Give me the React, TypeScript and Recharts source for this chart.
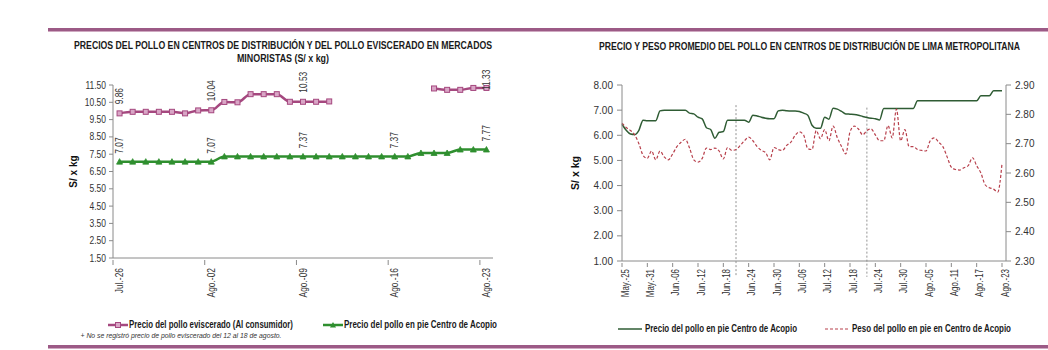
import React from 'react';
import { LineChart, Line, XAxis, YAxis, LabelList, ReferenceLine, Legend } from 'recharts';

const SANS = '"Liberation Sans", Arial, sans-serif';

// ---------- Left chart data ----------
const weekDates = ['Jul.-26', 'Jul.-27', 'Jul.-28', 'Jul.-29', 'Jul.-30', 'Jul.-31', 'Ago.-01', 'Ago.-02', 'Ago.-03', 'Ago.-04', 'Ago.-05', 'Ago.-06', 'Ago.-07', 'Ago.-08', 'Ago.-09', 'Ago.-10', 'Ago.-11', 'Ago.-12', 'Ago.-13', 'Ago.-14', 'Ago.-15', 'Ago.-16', 'Ago.-17', 'Ago.-18', 'Ago.-19', 'Ago.-20', 'Ago.-21', 'Ago.-22', 'Ago.-23'];
const evisceradoPrice: (number | null)[] = [9.86, 9.95, 9.95, 9.95, 9.95, 9.86, 10.03, 10.04, 10.52, 10.5, 10.97, 10.97, 10.97, 10.53, 10.53, 10.53, 10.55, null, null, null, null, null, null, null, 11.3, 11.22, 11.22, 11.33, 11.33];
const piePriceShort = [7.07, 7.07, 7.07, 7.07, 7.07, 7.07, 7.07, 7.07, 7.37, 7.37, 7.37, 7.37, 7.37, 7.37, 7.37, 7.37, 7.37, 7.37, 7.37, 7.37, 7.37, 7.37, 7.37, 7.57, 7.57, 7.57, 7.77, 7.77, 7.77];
const leftYTicks = [1.5, 2.5, 3.5, 4.5, 5.5, 6.5, 7.5, 8.5, 9.5, 10.5, 11.5];

// ---------- Right chart data ----------
const dayDates = [
  'May.-25', 'May.-26', 'May.-27', 'May.-28', 'May.-29', 'May.-30', 'May.-31',
  'Jun.-01', 'Jun.-02', 'Jun.-03', 'Jun.-04', 'Jun.-05', 'Jun.-06', 'Jun.-07', 'Jun.-08', 'Jun.-09', 'Jun.-10',
  'Jun.-11', 'Jun.-12', 'Jun.-13', 'Jun.-14', 'Jun.-15', 'Jun.-16', 'Jun.-17', 'Jun.-18', 'Jun.-19', 'Jun.-20',
  'Jun.-21', 'Jun.-22', 'Jun.-23', 'Jun.-24', 'Jun.-25', 'Jun.-26', 'Jun.-27', 'Jun.-28', 'Jun.-29', 'Jun.-30',
  'Jul.-01', 'Jul.-02', 'Jul.-03', 'Jul.-04', 'Jul.-05', 'Jul.-06', 'Jul.-07', 'Jul.-08', 'Jul.-09', 'Jul.-10',
  'Jul.-11', 'Jul.-12', 'Jul.-13', 'Jul.-14', 'Jul.-15', 'Jul.-16', 'Jul.-17', 'Jul.-18', 'Jul.-19', 'Jul.-20',
  'Jul.-21', 'Jul.-22', 'Jul.-23', 'Jul.-24', 'Jul.-25', 'Jul.-26', 'Jul.-27', 'Jul.-28', 'Jul.-29', 'Jul.-30', 'Jul.-31',
  'Ago.-01', 'Ago.-02', 'Ago.-03', 'Ago.-04', 'Ago.-05', 'Ago.-06', 'Ago.-07', 'Ago.-08', 'Ago.-09', 'Ago.-10',
  'Ago.-11', 'Ago.-12', 'Ago.-13', 'Ago.-14', 'Ago.-15', 'Ago.-16', 'Ago.-17', 'Ago.-18', 'Ago.-19', 'Ago.-20',
  'Ago.-21', 'Ago.-22', 'Ago.-23',
];
const piePrice = [
  6.44, 6.2, 6.05, 6.03, 6.2, 6.6, 6.58, 6.58, 6.58, 6.97,
  7.0, 7.0, 7.0, 7.0, 7.0, 7.0, 6.88, 6.85, 6.72, 6.65,
  6.3, 6.23, 5.88, 6.12, 6.15, 6.6, 6.6, 6.6, 6.6, 6.6,
  6.52, 6.8, 6.77, 6.72, 6.68, 6.66, 6.66, 6.97, 7.0, 6.98,
  6.97, 6.97, 6.95, 6.88, 6.8, 6.4, 6.28, 6.28, 6.72, 6.64,
  7.08, 7.04, 6.95, 6.85, 6.84, 6.83, 6.8, 6.75, 6.71, 6.68,
  6.66, 6.61, 7.07, 7.07, 7.07, 7.07, 7.07, 7.07, 7.07, 7.07,
  7.37, 7.37, 7.37, 7.37, 7.37, 7.37, 7.37, 7.37, 7.37, 7.37,
  7.37, 7.37, 7.37, 7.37, 7.37, 7.57, 7.57, 7.57, 7.77, 7.77,
  7.77,
];
const pieWeight = [
  2.77, 2.755, 2.745, 2.73, 2.7, 2.66, 2.65, 2.675, 2.645, 2.675,
  2.655, 2.645, 2.665, 2.69, 2.705, 2.715, 2.685, 2.645, 2.637, 2.65,
  2.685, 2.68, 2.685, 2.675, 2.648, 2.687, 2.677, 2.68, 2.694, 2.71,
  2.722, 2.71, 2.69, 2.677, 2.67, 2.645, 2.687, 2.68, 2.677, 2.694,
  2.705, 2.728, 2.74, 2.73, 2.683, 2.68, 2.745, 2.717, 2.748, 2.71,
  2.76, 2.72, 2.69, 2.665, 2.74, 2.76, 2.75, 2.73, 2.745, 2.75,
  2.73, 2.71, 2.71, 2.762, 2.72, 2.818, 2.71, 2.748, 2.69, 2.69,
  2.68, 2.677, 2.675, 2.71, 2.72, 2.705, 2.69, 2.655, 2.62, 2.612,
  2.61, 2.618, 2.625, 2.652, 2.625, 2.6, 2.56, 2.55, 2.545, 2.535,
  2.632,
];
const rightLeftTicks = [1, 2, 3, 4, 5, 6, 7, 8];
const rightRightTicks = [2.3, 2.4, 2.5, 2.6, 2.7, 2.8, 2.9];
const markerDates = ['Jun.-21', 'Jul.-22'];
const markerTop = [7.2, 7.1];
const markerBottom = 0.37;

const leftData = weekDates.map((d, i) => ({ d, ev: evisceradoPrice[i], pie: piePriceShort[i] }));
const rightData = dayDates.map((d, i) => ({ d, precio: piePrice[i], peso: pieWeight[i] }));

const PINK = '#a5487f';
const PINK_FILL = '#d9a6c6';
const GREEN = '#2f8f2f';
const DARK_GREEN = '#2f5c34';
const RED = '#b8404c';
const AXIS = '#8a8a8a';
const TXT = '#333';
const NARROW_SCALE = 0.8;

const LeftXTick = (props: any) => {
  const { x, y, payload } = props;
  const ty = y + 3;
  return (
    <g>
      <line x1={x - 6.55} x2={x - 6.55} y1={y - 5} y2={y} stroke={AXIS} />
      <text transform={`translate(${x}, ${ty}) rotate(-90) scale(${NARROW_SCALE}, 1)`} x={0} y={0} textAnchor="end" dy="0.35em" fontSize={10.5} fill={TXT} fontFamily={SANS}>
        {payload.value}
      </text>
    </g>
  );
};

const RightXTick = (props: any) => {
  const { x, y, payload } = props;
  const ty = y + 2;
  return (
    <g>
      <line x1={x} x2={x} y1={y - 4} y2={y} stroke={AXIS} />
      <text transform={`translate(${x}, ${ty}) rotate(-90) scale(0.76, 1)`} x={0} y={0} textAnchor="end" dy="0.65em" fontSize={10.5} fill={TXT} fontFamily={SANS}>
        {payload.value}
      </text>
    </g>
  );
};

const LeftYTick = (props: any) => {
  const { x, y, payload } = props;
  return (
    <text transform={`translate(${x}, ${y}) scale(0.85, 1)`} x={0} y={0} textAnchor="end" dy="0.35em" fontSize={10} fill={TXT} fontFamily={SANS}>
      {Number(payload.value).toFixed(2)}
    </text>
  );
};

const SquareDot = (props: any) => {
  const { cx, cy, value } = props;
  if (cx == null || cy == null || value == null) return null;
  return <rect x={cx - 2.5} y={cy - 2.5} width={5} height={5} fill={PINK_FILL} stroke={PINK} strokeWidth={1} />;
};

const TriangleDot = (props: any) => {
  const { cx, cy, value } = props;
  if (cx == null || cy == null || value == null) return null;
  return <polygon points={`${cx},${cy - 3} ${cx - 3},${cy + 2.5} ${cx + 3},${cy + 2.5}`} fill={GREEN} stroke={GREEN} strokeWidth={0.8} />;
};

const makeValueLabel = (gap: number, minBottom: number) => (props: any) => {
  const { x, y, value, index } = props;
  if (value == null || index % 7 !== 0) return null;
  const by = Math.max(y - gap, minBottom);
  return (
    <text transform={`translate(${x}, ${by}) rotate(-90) scale(${NARROW_SCALE}, 1)`} x={0} y={0} textAnchor="start" dy="0.35em" fontSize={10.5} fill={TXT} fontFamily={SANS}>
      {Number(value).toFixed(2)}
    </text>
  );
};

type FitProps = { x: number; y: number; w: number; size: number; sy?: number; anchor?: 'start' | 'middle' | 'end'; bold?: boolean; italic?: boolean; fill?: string; children: React.ReactNode };
const FitText = ({ x, y, w, size, sy = 1, anchor = 'start', bold = false, italic = false, fill = '#1a1a1a', children }: FitProps) => (
  <text
    x={x}
    y={y}
    textLength={w}
    lengthAdjust="spacingAndGlyphs"
    transform={sy !== 1 ? `translate(0 ${y}) scale(1 ${sy}) translate(0 ${-y})` : undefined}
    textAnchor={anchor}
    fontSize={size}
    fontWeight={bold ? 'bold' : 'normal'}
    fontStyle={italic ? 'italic' : 'normal'}
    fill={fill}
    fontFamily={SANS}
  >
    {children}
  </text>
);

// legend drawn inside an svg whose origin is the chart's top-left, offset by LEG_TOP
const LEG_TOP = 310;
const LEG_SIZE = 7.7;
const LEG_SY = 1.3;
const LeftLegend = () => (
  <svg width={520} height={30} style={{ display: 'block' }}>
    <line x1={108} x2={128} y1={325 - LEG_TOP} y2={325 - LEG_TOP} stroke={PINK} strokeWidth={2.5} />
    <rect x={115.5} y={322.5 - LEG_TOP} width={5} height={5} fill={PINK_FILL} stroke={PINK} />
    <FitText x={129} y={328.5 - LEG_TOP} w={164} size={LEG_SIZE} sy={LEG_SY} bold>Precio del pollo eviscerado (Al consumidor)</FitText>
    <line x1={323} x2={343} y1={325 - LEG_TOP} y2={325 - LEG_TOP} stroke={GREEN} strokeWidth={2.5} />
    <polygon points={`333,${322 - LEG_TOP} 330,${327.5 - LEG_TOP} 336,${327.5 - LEG_TOP}`} fill={GREEN} />
    <FitText x={344} y={328.5 - LEG_TOP} w={153} size={LEG_SIZE} sy={LEG_SY} bold>Precio del pollo en pie Centro de Acopio</FitText>
  </svg>
);

const RightLegend = () => (
  <svg width={528} height={30} style={{ display: 'block' }}>
    <line x1={98} x2={122} y1={329 - LEG_TOP} y2={329 - LEG_TOP} stroke={DARK_GREEN} strokeWidth={1.5} />
    <FitText x={125} y={332.5 - LEG_TOP} w={152} size={LEG_SIZE} sy={LEG_SY} bold>Precio del pollo en pie Centro de Acopio</FitText>
    <line x1={305} x2={328} y1={329 - LEG_TOP} y2={329 - LEG_TOP} stroke={RED} strokeWidth={1.2} strokeDasharray="3 2" />
    <FitText x={332} y={332.5 - LEG_TOP} w={159} size={LEG_SIZE} sy={LEG_SY} bold>Peso del pollo en pie en Centro de Acopio</FitText>
  </svg>
);

const Rule = ({ top }: { top: number }) => (
  <>
    <div style={{ position: 'absolute', left: 48, top, width: 1000, height: 2.5, background: '#9c5a86' }} />
    <div style={{ position: 'absolute', left: 48, top: top + 3, width: 1000, height: 1, background: '#cfa9c1' }} />
  </>
);

export default function App() {
  return (
    <div style={{ position: 'absolute', left: 0, top: 0, width: 1048, height: 350, background: '#fff', overflow: 'hidden' }}>
      <Rule top={28} />
      <Rule top={345} />

      {/* Left chart */}
      <div style={{ position: 'absolute', left: 0, top: 0 }}>
        <LineChart width={520} height={350} data={leftData} margin={{ top: 85, right: 27, bottom: 52, left: 63 }}>
          <XAxis dataKey="d" interval={6} height={40} padding={{ left: 6.55, right: 6.55 }} tickSize={5} tickLine={false} axisLine={{ stroke: AXIS }} tick={<LeftXTick />} />
          <YAxis
            domain={[1.5, 11.5]}
            ticks={leftYTicks}
            interval={0}
            width={50}
            tickSize={4}
            tickMargin={3}
            axisLine={{ stroke: AXIS }}
            tickLine={{ stroke: AXIS }}
            tick={<LeftYTick />}
            label={{ value: 'S/ x kg', angle: -90, position: 'insideLeft', offset: 0, dx: 10, style: { fontFamily: SANS, fontWeight: 'bold', fontSize: 10, fill: '#111', textAnchor: 'middle' } }}
          />
          <Line type="monotone" dataKey="ev" stroke={PINK} strokeWidth={2.5} dot={<SquareDot />} activeDot={false} connectNulls={false} isAnimationActive={false}>
            <LabelList dataKey="ev" content={makeValueLabel(9, 90)} />
          </Line>
          <Line type="monotone" dataKey="pie" stroke={GREEN} strokeWidth={2.5} dot={<TriangleDot />} activeDot={false} isAnimationActive={false}>
            <LabelList dataKey="pie" content={makeValueLabel(8, 0)} />
          </Line>
          <Legend layout="horizontal" verticalAlign="middle" align="center" wrapperStyle={{ left: 0, top: LEG_TOP, width: 520, height: 30 }} content={() => <LeftLegend />} />
        </LineChart>
      </div>

      {/* Right chart */}
      <div style={{ position: 'absolute', left: 520, top: 0 }}>
        <LineChart width={528} height={350} data={rightData} margin={{ top: 85, right: 2, bottom: 49, left: 62 }}>
          <XAxis dataKey="d" interval={5} height={40} padding={{ left: 0, right: 4 }} tickSize={4} tickLine={false} axisLine={{ stroke: AXIS }} tick={<RightXTick />} />
          <YAxis
            yAxisId="l"
            domain={[1, 8]}
            ticks={rightLeftTicks}
            interval={0}
            width={40}
            tickSize={5}
            tickMargin={4}
            axisLine={{ stroke: AXIS }}
            tickLine={{ stroke: AXIS }}
            tickFormatter={(v: number) => v.toFixed(2)}
            tick={{ fontSize: 10, fill: TXT, fontFamily: SANS }}
            label={{ value: 'S/  x  kg', angle: -90, position: 'insideLeft', offset: 0, dx: -7, style: { fontFamily: SANS, fontWeight: 'bold', fontSize: 10.5, fill: '#111', textAnchor: 'middle', whiteSpace: 'pre' } }}
          />
          <YAxis
            yAxisId="r"
            orientation="right"
            domain={[2.3, 2.9]}
            ticks={rightRightTicks}
            interval={0}
            width={40}
            tickSize={5}
            tickMargin={4}
            axisLine={{ stroke: AXIS }}
            tickLine={{ stroke: AXIS }}
            tickFormatter={(v: number) => v.toFixed(2)}
            tick={{ fontSize: 10, fill: TXT, fontFamily: SANS }}
          />
          {markerDates.map((d, i) => (
            <ReferenceLine
              key={d}
              yAxisId="l"
              ifOverflow="visible"
              segment={[{ x: d, y: markerTop[i] }, { x: d, y: markerBottom }]}
              stroke="#777"
              strokeWidth={0.8}
              strokeDasharray="2 2"
            />
          ))}
          <Line yAxisId="l" type="monotone" dataKey="precio" stroke={DARK_GREEN} strokeWidth={1.5} dot={false} activeDot={false} isAnimationActive={false} />
          <Line yAxisId="r" type="monotone" dataKey="peso" stroke={RED} strokeWidth={1.2} strokeDasharray="3 2" dot={false} activeDot={false} isAnimationActive={false} />
          <Legend layout="horizontal" verticalAlign="middle" align="center" wrapperStyle={{ left: 0, top: LEG_TOP, width: 528, height: 30 }} content={() => <RightLegend />} />
        </LineChart>
      </div>

      {/* Titles and note */}
      <svg width={1048} height={350} style={{ position: 'absolute', left: 0, top: 0, pointerEvents: 'none' }}>
        <FitText x={283} y={48.8} w={418} size={8.1} sy={1.3} anchor="middle" bold>PRECIOS DEL POLLO EN CENTROS DE DISTRIBUCIÓN Y DEL POLLO EVISCERADO EN MERCADOS</FitText>
        <FitText x={283} y={62} w={92} size={8.1} sy={1.3} anchor="middle" bold>MINORISTAS (S/ x kg)</FitText>
        <FitText x={809.5} y={50.5} w={421} size={8.1} sy={1.3} anchor="middle" bold>PRECIO Y PESO PROMEDIO DEL POLLO EN CENTROS DE DISTRIBUCIÓN DE LIMA METROPOLITANA</FitText>
        <FitText x={80.5} y={338} w={201} size={6.6} italic fill="#333">+ No se registró precio de pollo eviscerado del 12 al 18 de agosto.</FitText>
      </svg>
    </div>
  );
}
